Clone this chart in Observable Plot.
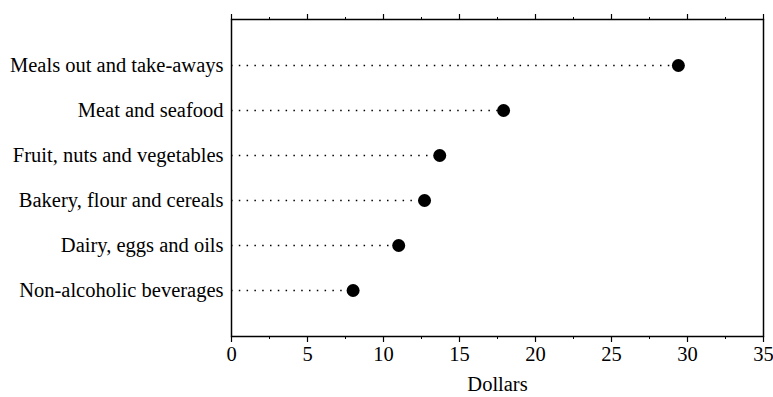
<!DOCTYPE html>
<html>
<head>
<meta charset="utf-8">
<script src="https://cdn.jsdelivr.net/npm/d3@7"></script>
<script src="https://cdn.jsdelivr.net/npm/@observablehq/plot@0.6"></script>
<style>
  html, body { margin: 0; padding: 0; background: #fff; }
  #chart svg { display: block; }
</style>
</head>
<body>
<div id="chart"></div>
<script>
const categories = [
  "Meals out and take-aways",
  "Meat and seafood",
  "Fruit, nuts and vegetables",
  "Bakery, flour and cereals",
  "Dairy, eggs and oils",
  "Non-alcoholic beverages"
];
const values = [29.4, 17.9, 13.7, 12.7, 11.0, 8.0];
const majorTicks = [0, 5, 10, 15, 20, 25, 30, 35];
const minorTicks = [2.5, 7.5, 12.5, 17.5, 22.5, 27.5, 32.5];

const data = categories.map((c, i) => ({category: c, value: values[i]}));

const chart = Plot.plot({
  width: 773,
  height: 397,
  marginLeft: 231,
  marginRight: 10,
  marginTop: 19,
  marginBottom: 61,
  style: {fontFamily: "'Liberation Serif', 'Times New Roman', serif", fontSize: "20.5px", color: "#000", background: "#fff"},
  x: {domain: [0, 35]},
  y: {type: "point", domain: categories, padding: 1},
  marks: [
    Plot.frame({stroke: "#000", strokeWidth: 1.5}),
    Plot.ruleY(data, {y: "category", x1: 0, x2: "value", stroke: "#000", strokeWidth: 1.3, strokeDasharray: "1.5,6.3"}),
    Plot.dot(data, {x: "value", y: "category", r: 6.5, fill: "#000", stroke: "none"}),
    Plot.axisX(majorTicks, {anchor: "bottom", tickSize: 6, tickPadding: 4, fontSize: 20.5, label: "Dollars", labelAnchor: "center", labelOffset: 54, labelArrow: "none", stroke: "#000", strokeWidth: 1.2}),
    Plot.axisX(minorTicks, {anchor: "bottom", tickSize: 3, text: null, label: null, stroke: "#000"}),
    Plot.axisX(majorTicks, {anchor: "top", tickSize: 6, text: null, label: null, stroke: "#000", strokeWidth: 1.2}),
    Plot.axisX(minorTicks, {anchor: "top", tickSize: 3, text: null, label: null, stroke: "#000"}),
    Plot.axisY({anchor: "left", tickSize: 0, tickPadding: 8, fontSize: 20.5, label: null})
  ]
});
document.getElementById("chart").append(chart);
</script>
</body>
</html>
